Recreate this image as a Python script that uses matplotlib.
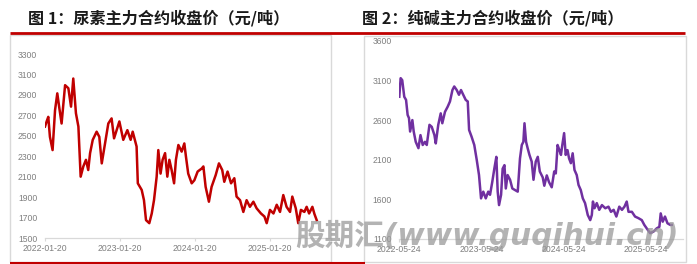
import numpy as np
import pandas as pd
import matplotlib
matplotlib.use('Agg')
import matplotlib.pyplot as plt
from matplotlib.lines import Line2D
from matplotlib.patches import Rectangle

# urea main contract close (yuan/ton), days counted from 2022-01-20
urea_start = '2022-01-20'
urea_days = [0, 8, 16, 24, 37, 49, 60, 70, 81, 98, 114, 127, 138, 151, 163, 174,
             187, 200, 211, 220, 233, 252, 265, 277, 293, 309, 325, 337, 363, 382,
             402, 418, 428, 447, 453, 472, 483, 493, 509, 521, 532, 545, 553, 564,
             574, 586, 597, 607, 618, 630, 639, 651, 667, 680, 688, 699, 716, 729,
             745, 765, 773, 784, 800, 813, 833, 849, 865, 875, 891, 908, 924, 935,
             952, 968, 984, 1000, 1017, 1033, 1054, 1071, 1082, 1098, 1115, 1131,
             1147, 1163, 1179, 1196, 1207, 1224, 1236, 1249, 1266, 1277, 1289, 1305,
             1315, 1326]
urea_close = [2590, 2640, 2685, 2490, 2360, 2750, 2915, 2770, 2620, 2995, 2965, 2785,
              3060, 2720, 2590, 2100, 2200, 2265, 2165, 2330, 2460, 2540, 2490, 2230,
              2425, 2620, 2670, 2475, 2640, 2460, 2555, 2460, 2540, 2395, 2035, 1970,
              1870, 1675, 1645, 1740, 1870, 2100, 2360, 2130, 2265, 2330, 2100, 2265,
              2165, 2035, 2265, 2410, 2345, 2425, 2295, 2130, 2035, 2065, 2150, 2180,
              2200, 2000, 1855, 2000, 2115, 2230, 2165, 2050, 2150, 2035, 2085, 1905,
              1870, 1755, 1870, 1805, 1855, 1790, 1740, 1710, 1645, 1775, 1740, 1825,
              1755, 1920, 1805, 1755, 1905, 1790, 1645, 1775, 1755, 1805, 1740, 1805,
              1735, 1675]
urea_ticks = ['2022-01-20', '2023-01-20', '2024-01-20', '2025-01-20']

# soda ash main contract close (yuan/ton), days counted from 2022-05-24
soda_start = '2022-05-24'
soda_days = [0, 6, 13, 22, 30, 37, 43, 48, 58, 64, 73, 85, 94, 104, 114, 122, 134,
             144, 156, 162, 173, 184, 191, 203, 215, 225, 236, 244, 255, 265, 274,
             284, 295, 304, 310, 321, 333, 344, 354, 363, 373, 384, 395, 403, 413,
             422, 431, 437, 443, 452, 459, 467, 473, 481, 492, 502, 514, 526, 536,
             544, 551, 556, 563, 570, 578, 588, 596, 606, 615, 624, 637, 644, 655,
             665, 677, 688, 695, 703, 711, 718, 724, 732, 739, 747, 754, 762, 770,
             778, 788, 796, 806, 815, 825, 837, 848, 855, 860, 867, 877, 888, 900,
             915, 929, 940, 952, 964, 977, 989, 1000, 1010, 1018, 1033, 1047, 1062,
             1077, 1088, 1099, 1114, 1129, 1143, 1155, 1161, 1170, 1180, 1191, 1203,
             1210]
soda_close = [2895, 3130, 3105, 2895, 2855, 2665, 2625, 2455, 2600, 2455, 2325, 2245,
              2410, 2285, 2325, 2285, 2540, 2515, 2410, 2305, 2540, 2685, 2560, 2705,
              2770, 2835, 2980, 3025, 2980, 2920, 2980, 2920, 2855, 2835, 2475, 2390,
              2285, 2095, 1905, 1610, 1695, 1610, 1695, 1655, 1820, 1985, 2135, 1695,
              1525, 1655, 1985, 2030, 1735, 1905, 1845, 1735, 1715, 1695, 2115, 2285,
              2325, 2560, 2325, 2245, 2160, 2075, 1845, 2075, 2135, 1950, 1875, 1770,
              1900, 1815, 1750, 1950, 1925, 2285, 2220, 2160, 2285, 2435, 2160, 2220,
              2115, 2055, 2180, 1970, 1905, 1780, 1715, 1610, 1550, 1400, 1335, 1400,
              1570, 1485, 1550, 1465, 1525, 1485, 1505, 1440, 1465, 1380, 1505, 1465,
              1505, 1570, 1440, 1440, 1380, 1360, 1335, 1275, 1230, 1170, 1190, 1230,
              1250, 1420, 1315, 1380, 1295, 1275, 1275]
soda_ticks = ['2022-05-24', '2023-05-24', '2024-05-24', '2025-05-24']

W, H = 697, 264
fig = plt.figure(figsize=(W / 100, H / 100), dpi=100)
fig.patch.set_facecolor('white')

cjk = ['Noto Sans CJK SC', 'DejaVu Sans']
red = '#C00000'
purple = '#7030A0'
frame_grey = '#D9D9D9'


def fx(px):
    return px / W


def fy(py):
    return 1 - py / H


# panel frames
fig.add_artist(Rectangle((fx(10), fy(262)), fx(321), (227) / H, transform=fig.transFigure,
                         fill=False, edgecolor=frame_grey, lw=1.0))
fig.add_artist(Rectangle((fx(364), fy(262)), fx(322), (226) / H, transform=fig.transFigure,
                         fill=False, edgecolor=frame_grey, lw=1.0))

# red rules
fig.add_artist(Line2D([fx(10), fx(685)], [fy(32.5), fy(32.5)], transform=fig.transFigure,
                      color=red, lw=2.0, solid_capstyle='butt'))
fig.add_artist(Line2D([fx(10), fx(365)], [fy(262.5), fy(262.5)], transform=fig.transFigure,
                      color=red, lw=1.5, solid_capstyle='butt'))

# titles
fig.text(fx(28), fy(18), '图 1：尿素主力合约收盘价（元/吨）', family=cjk, weight='bold',
         fontsize=11.6, color='#1A1A1A', va='center', ha='left')
fig.text(fx(362), fy(18), '图 2：纯碱主力合约收盘价（元/吨）', family=cjk, weight='bold',
         fontsize=11.6, color='#1A1A1A', va='center', ha='left')


def setup(ax, start, days, close, ticks, color, xmax_days, ylim, ystep):
    dates = pd.Timestamp(start) + pd.to_timedelta(days, unit='D')
    ax.plot(dates, close, color=color, lw=1.8)
    ax.set_xlim(pd.Timestamp(start), pd.Timestamp(start) + pd.Timedelta(days=xmax_days))
    ax.set_ylim(*ylim)
    ax.set_yticks(np.arange(ylim[0], ylim[1] + 1, ystep))
    ax.set_xticks(pd.to_datetime(ticks))
    ax.set_xticklabels(ticks)
    for s in ['top', 'right', 'left']:
        ax.spines[s].set_visible(False)
    ax.spines['bottom'].set_color(frame_grey)
    ax.spines['bottom'].set_linewidth(0.9)
    ax.tick_params(axis='x', length=2.5, width=0.8, color=frame_grey, pad=2,
                   labelsize=6.2, labelcolor='#7F7F7F')
    ax.tick_params(axis='y', length=0, pad=5.5, labelsize=6.2, labelcolor='#7F7F7F')
    for lab in ax.get_xticklabels() + ax.get_yticklabels():
        lab.set_family('Liberation Sans')
    ax.patch.set_alpha(0)


ax1 = fig.add_axes([fx(45), fy(238), fx(285), 184 / H])
setup(ax1, urea_start, urea_days, urea_close, urea_ticks, red, 1391, (1500, 3300), 200)

ax2 = fig.add_axes([fx(399.3), fy(238.7), fx(283.7), 197.7 / H])
setup(ax2, soda_start, soda_days, soda_close, soda_ticks, purple, 1260, (1100, 3600), 500)

# watermark
fig.text(fx(295), fy(235), '股期汇(www.guqihui.cn)', family=['DejaVu Sans', 'Noto Sans CJK SC'],
         style='italic', weight='bold', fontsize=21.3, color='#9A9A9A', alpha=0.75,
         va='center', ha='left', zorder=10)

fig.savefig('out.png', dpi=100, facecolor='white')
